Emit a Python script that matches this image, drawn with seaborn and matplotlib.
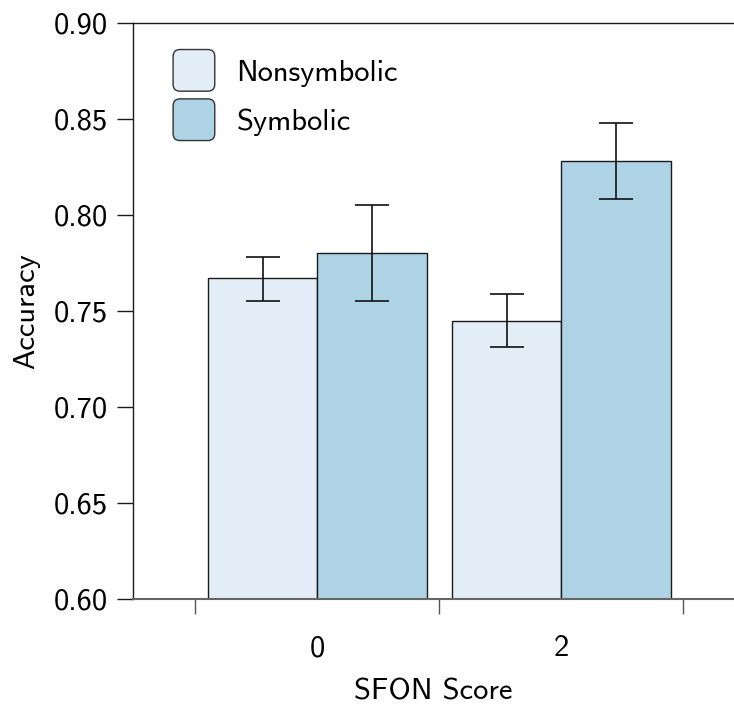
import matplotlib
matplotlib.use("Agg")
import matplotlib.pyplot as plt
import seaborn as sns
import pandas as pd
from matplotlib.patches import FancyBboxPatch, Patch
from matplotlib.legend_handler import HandlerPatch

# ---- data ----
scores = ["0", "2", "0", "2"]
conditions = ["Nonsymbolic", "Nonsymbolic", "Symbolic", "Symbolic"]
accuracy = [0.767, 0.745, 0.780, 0.828]
err_low = [0.755, 0.731, 0.755, 0.8085]
err_high = [0.778, 0.759, 0.805, 0.848]
hue_order = ["Nonsymbolic", "Symbolic"]
colors = ["#e2edf7", "#aed3e5"]
yticks = [0.60, 0.65, 0.70, 0.75, 0.80, 0.85, 0.90]

df = pd.DataFrame({"SFON Score": scores, "Condition": conditions,
                   "Accuracy": accuracy, "lo": err_low, "hi": err_high})

sns.set_style("white")
plt.rcParams["font.family"] = ["cmss10", "DejaVu Sans"]
plt.rcParams["axes.unicode_minus"] = False
for k in ["text.color", "axes.labelcolor", "xtick.color", "ytick.color"]:
    plt.rcParams[k] = "black"

fig = plt.figure(figsize=(7.34, 7.05), dpi=100)
ax = fig.add_axes([133 / 734, 1 - 599 / 705, 1 - 133 / 734, (599 - 23) / 705])

sns.barplot(data=df, x="SFON Score", y="Accuracy", hue="Condition",
            hue_order=hue_order, order=["0", "2"], palette=colors,
            saturation=1, width=0.9, errorbar=None, edgecolor="#1a1a1a",
            linewidth=1.0, ax=ax, legend=False)

# error bars positioned on the bars drawn by seaborn
for cond, cont in zip(hue_order, ax.containers):
    sub = df[df["Condition"] == cond].set_index("SFON Score").loc[["0", "2"]]
    for bar, (_, row) in zip(cont.patches, sub.iterrows()):
        xc = bar.get_x() + bar.get_width() / 2
        h = bar.get_height()
        ax.errorbar([xc], [h], yerr=[[h - row["lo"]], [row["hi"] - h]],
                    fmt="none", ecolor="#111111", elinewidth=1.2,
                    capsize=12, capthick=1.2, zorder=5)

ax.set_ylim(0.60, 0.90)
ax.set_yticks(yticks)
ax.set_yticklabels([f"{v:.2f}" for v in yticks])
ax.set_xlim(-0.756, 1.707)

# category labels on major ticks (no tick line), group boundaries on minor ticks
ax.set_xticks([0, 1])
ax.set_xticklabels(["0", "2"])
ax.set_xticks([-0.5, 0.5, 1.5], minor=True)
ax.tick_params(axis="x", which="major", length=0, pad=26, labelsize=22)
ax.tick_params(axis="x", which="minor", length=10.5, width=1.0,
               color="#555555", direction="out", bottom=True)
ax.tick_params(axis="y", which="major", length=11.5, width=1.0,
               color="#1a1a1a", direction="out", left=True, pad=6.5, labelsize=22)

for s in ["left", "top"]:
    ax.spines[s].set_color("#1a1a1a")
    ax.spines[s].set_linewidth(1.0)
ax.spines["bottom"].set_color("#666666")
ax.spines["bottom"].set_linewidth(1.5)
ax.spines["right"].set_visible(False)

ax.set_xlabel("SFON Score", fontsize=22, labelpad=12)
ax.set_ylabel("Accuracy", fontsize=22, labelpad=10)


class RoundHandler(HandlerPatch):
    def create_artists(self, legend, orig_handle, xdescent, ydescent,
                       width, height, fontsize, trans):
        w, h = 30.0, 30.0  # points (~42 px)
        x0 = -xdescent + (width - w) / 2
        y0 = -ydescent + (height - h) / 2
        r = 5.0
        p = FancyBboxPatch((x0 + r, y0 + r), w - 2 * r, h - 2 * r,
                           boxstyle=f"round,pad={r},rounding_size={r}",
                           facecolor=orig_handle.get_facecolor(),
                           edgecolor="#333333", linewidth=1.0,
                           transform=trans)
        return [p]


handles = [Patch(facecolor=c, edgecolor="#333333", label=l)
           for c, l in zip(colors, hue_order)]
leg = ax.legend(handles=handles, loc="upper left",
                bbox_to_anchor=((173 - 133) / 601, (599 - 53) / 576),
                frameon=False, fontsize=22, borderpad=0, borderaxespad=0,
                handlelength=1.37, handleheight=1.37, labelspacing=0.48,
                handletextpad=0.7,
                handler_map={Patch: RoundHandler()})

fig.savefig("out.png", dpi=100)
